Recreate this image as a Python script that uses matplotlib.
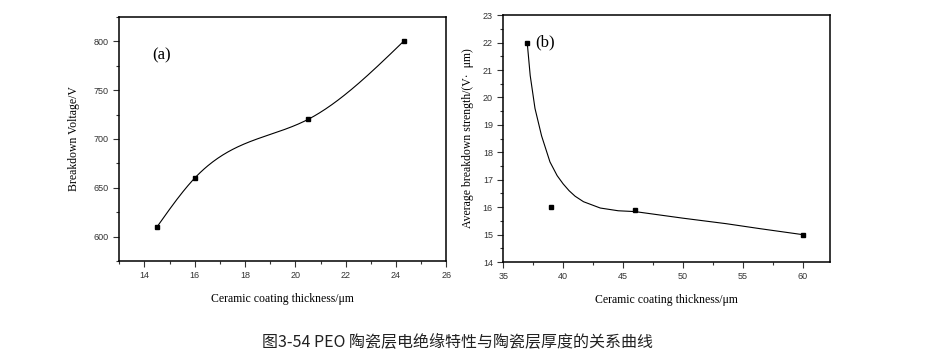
# -*- coding: utf-8 -*-
"""PEO ceramic layer: breakdown voltage and strength vs. coating thickness."""
import numpy as np
import matplotlib
matplotlib.use("Agg")
import matplotlib.pyplot as plt
from matplotlib.ticker import MultipleLocator

# (a) breakdown voltage
thick_a = [14.5, 16.0, 20.5, 24.3]
volt_a = [610, 660, 720, 800]

# (b) average breakdown strength
thick_b = [37.0, 39.0, 46.0, 60.0]
strength_b = [22.0, 16.0, 15.9, 15.0]
# fitted curve of (b)
fit_x_b = [37.0, 37.25, 37.65, 38.2, 38.9, 39.5, 40.0, 40.5, 41.0, 41.7,
           43.1, 44.6, 46.0, 50.0, 53.6, 56.4, 60.0]
fit_y_b = [22.0, 20.8, 19.6, 18.6, 17.65, 17.15, 16.85, 16.6, 16.4, 16.2,
           15.97, 15.87, 15.84, 15.6, 15.4, 15.22, 15.0]

caption = "图3-54 PEO 陶瓷层电绝缘特性与陶瓷层厚度的关系曲线"

SERIF = "Liberation Serif"
SANS = "Liberation Sans"


def natural_spline(x, y, n=200):
    """Natural cubic spline through the points (smooth line like Origin)."""
    x = np.asarray(x, float)
    y = np.asarray(y, float)
    k = len(x)
    h = np.diff(x)
    A = np.zeros((k, k))
    r = np.zeros(k)
    A[0, 0] = A[-1, -1] = 1.0
    for i in range(1, k - 1):
        A[i, i - 1] = h[i - 1]
        A[i, i] = 2 * (h[i - 1] + h[i])
        A[i, i + 1] = h[i]
        r[i] = 6 * ((y[i + 1] - y[i]) / h[i] - (y[i] - y[i - 1]) / h[i - 1])
    m = np.linalg.solve(A, r)
    xs = np.linspace(x[0], x[-1], n)
    j = np.clip(np.searchsorted(x, xs) - 1, 0, k - 2)
    t0 = xs - x[j]
    t1 = x[j + 1] - xs
    hj = h[j]
    ys = (m[j] * t1 ** 3 + m[j + 1] * t0 ** 3) / (6 * hj) \
        + (y[j] / hj - m[j] * hj / 6) * t1 \
        + (y[j + 1] / hj - m[j + 1] * hj / 6) * t0
    return xs, ys


def style_axes(ax):
    for s in ax.spines.values():
        s.set_linewidth(1.1)
    ax.tick_params(which="both", direction="out", top=False, right=False,
                   width=0.8, colors="#333333", labelsize=6.5)
    ax.tick_params(which="major", length=4)
    ax.tick_params(which="minor", length=2.5)
    for lab in ax.get_xticklabels() + ax.get_yticklabels():
        lab.set_family(SANS)


fig = plt.figure(figsize=(9.41, 3.6), dpi=100)

# ---- panel (a)
ax1 = fig.add_axes([0.1268, 0.275, 0.3475, 0.678])
xs, ys = natural_spline(thick_a, volt_a)
ax1.plot(xs, ys, color="k", lw=0.8)
ax1.plot(thick_a, volt_a, ls="none", marker="s", ms=3.2, color="k")
ax1.set_xlim(13, 26)
ax1.set_ylim(575, 825)
ax1.xaxis.set_major_locator(MultipleLocator(2))
ax1.xaxis.set_minor_locator(MultipleLocator(1))
ax1.yaxis.set_major_locator(MultipleLocator(50))
ax1.yaxis.set_minor_locator(MultipleLocator(25))
style_axes(ax1)
ax1.set_xlabel("Ceramic coating thickness/μm", family=SERIF, fontsize=8.5,
               labelpad=9)
ax1.set_ylabel("Breakdown Voltage/V", family=SERIF, fontsize=8.5,
               labelpad=10)
ax1.text(14.3, 786, "(a)", family=SERIF, fontsize=12, va="center")

# ---- panel (b)
ax2 = fig.add_axes([0.5348, 0.272, 0.3475, 0.686])
ax2.plot(fit_x_b, fit_y_b, color="k", lw=0.8)
ax2.plot(thick_b, strength_b, ls="none", marker="s", ms=3.2, color="k")
ax2.set_xlim(35, 62.3)
ax2.set_ylim(14, 23)
ax2.xaxis.set_major_locator(MultipleLocator(5))
ax2.xaxis.set_minor_locator(MultipleLocator(2.5))
ax2.yaxis.set_major_locator(MultipleLocator(1))
ax2.yaxis.set_minor_locator(MultipleLocator(0.5))
style_axes(ax2)
ax2.set_xlabel("Ceramic coating thickness/μm", family=SERIF, fontsize=8.5,
               labelpad=9)
ax2.set_ylabel("Average breakdown strength/(V·  μm)", family=SERIF,
               fontsize=8.5, labelpad=6)
ax2.text(37.7, 22.0, "(b)", family=SERIF, fontsize=12, va="center")

fig.text(0.486, 0.051, caption, ha="center", va="center", fontsize=11.5,
         family=["Noto Sans CJK SC", "DejaVu Sans"], color="#222222")

fig.savefig("out.png", dpi=100)
